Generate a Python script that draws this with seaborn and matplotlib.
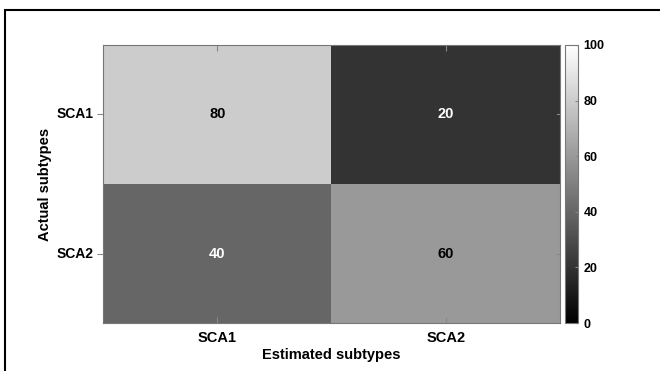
import seaborn as sns
import matplotlib.pyplot as plt
import numpy as np
import pandas as pd
from matplotlib.patches import Rectangle

# Confusion matrix values (percent)
actual = ['SCA1', 'SCA2']
estimated = ['SCA1', 'SCA2']
row_sca1 = [80, 20]
row_sca2 = [40, 60]

df = pd.DataFrame([row_sca1, row_sca2], index=actual, columns=estimated)

plt.rcParams['font.family'] = ['Liberation Sans', 'DejaVu Sans']
plt.rcParams['font.weight'] = 'bold'

fig = plt.figure(figsize=(6.6, 3.71), dpi=100)
ax = fig.add_axes([103 / 660, 0.129, 457 / 660, 0.750])
cax = fig.add_axes([565 / 660, 0.129, 13 / 660, 0.750])

sns.heatmap(df, ax=ax, cbar_ax=cax, cmap='gray', vmin=0, vmax=100,
            annot=False, linewidths=0)

# annotate cells, black text on light cells and white on dark
for i, lab in enumerate(actual):
    for j, col in enumerate(estimated):
        v = df.loc[lab, col]
        ax.text(j + 0.5, i + 0.5, f'{v}', ha='center', va='center',
                fontsize=10.5, fontweight='bold',
                color='black' if v >= 50 else 'white')

ax.set_xlabel('Estimated subtypes', fontsize=10.5, fontweight='bold', labelpad=2)
ax.set_ylabel('Actual subtypes', fontsize=10.5, fontweight='bold', labelpad=3)
ax.tick_params(axis='x', direction='in', length=4, color='#888888',
               labelsize=10.5, top=True, pad=6)
ax.tick_params(axis='y', direction='out', length=4, color='#888888',
               labelsize=10, right=False, pad=3)
ax.set_yticklabels(actual, rotation=0, fontweight='bold')
ax.set_xticklabels(estimated, rotation=0, fontweight='bold')
for s in ax.spines.values():
    s.set_visible(True)
    s.set_color('#777777')
    s.set_linewidth(0.8)
# inward tick marks on the right edge
for yy in [0.5, 1.5]:
    ax.plot([1.985, 2.0], [yy, yy], color='#888888', lw=0.8, clip_on=False)

cbar = ax.collections[0].colorbar
cbar.set_ticks([0, 20, 40, 60, 80, 100])
cax.tick_params(direction='in', length=2, labelsize=9, color='#888888', pad=4)
for t in cax.get_yticklabels():
    t.set_fontweight('bold')
cbar.outline.set_edgecolor('#777777')
cbar.outline.set_linewidth(0.8)

# outer frame
fig.patches.append(Rectangle((5 / 660, -0.05), 1.1, 1 - 9.5 / 371 + 0.05,
                             transform=fig.transFigure, fill=False,
                             edgecolor='black', linewidth=1.5))

fig.savefig('out.png', dpi=100)
